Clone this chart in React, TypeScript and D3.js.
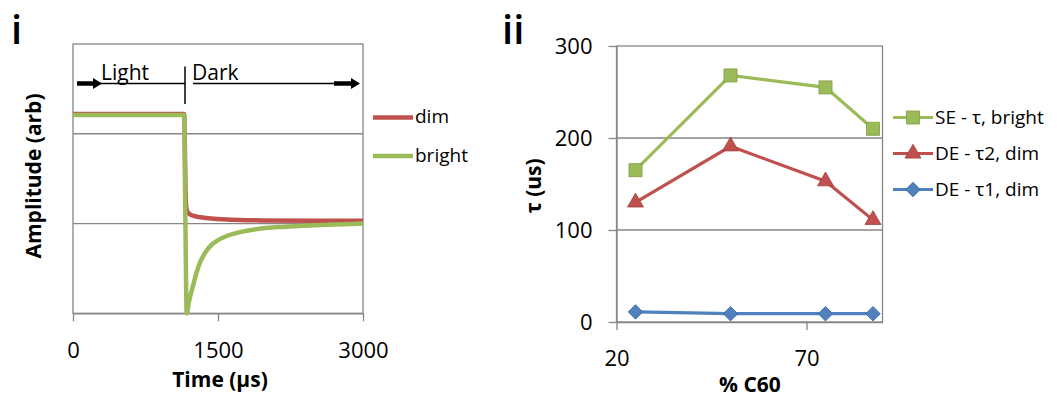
import React, { useEffect, useRef } from "react";
import * as d3 from "d3";

// panel i: transient amplitude (arb) vs time (us)
const timeTicks = [0, 1500, 3000];
const ampGrid = [1, 2];
const dimTime = [0, 1150, 1158, 1165, 1175, 1190, 1215, 1250, 1314, 1400, 1590, 1934, 2500, 3000];
const dimAmp = [2.22, 2.22, 1.8, 1.3, 1.16, 1.12, 1.1, 1.085, 1.07, 1.06, 1.045, 1.035, 1.03, 1.03];
const brightTime = [0, 1150, 1158, 1167, 1176, 1200, 1240, 1280, 1320, 1370, 1430, 1500, 1600, 1750, 1950, 2200, 2500, 2800, 3000];
const brightAmp = [2.21, 2.21, 1.5, 0.6, 0.0, 0.13, 0.3, 0.46, 0.58, 0.68, 0.76, 0.815, 0.865, 0.91, 0.945, 0.965, 0.982, 0.993, 1.0];

// panel ii: tau vs % C60
const c60 = [25, 50, 75, 87.5];
const seBright = [165, 268, 255, 210];
const deTau2Dim = [130, 191, 153, 111];
const deTau1Dim = [11, 9, 9, 9];
const c60Ticks = [20, 70];
const tauTicks = [0, 100, 200, 300];

const RED = "#c0504d";
const GREEN = "#9bbb59";
const BLUE = "#4f81bd";
const GREY = "#868686";
const FONT = "'Open Sans', sans-serif";

function App() {
  const ref = useRef<SVGSVGElement>(null);

  useEffect(() => {
    drawChart();
  });

  const drawChart = () => {
    const svg = d3.select(ref.current);
    svg.selectAll("*").remove();
    svg.style("font-family", FONT);

    // ---------- panel i ----------
    const x1 = d3.scaleLinear().domain([0, 3000]).range([73, 363]);
    const y1 = d3.scaleLinear().domain([0, 3]).range([313.3, 44]);

    const g1 = svg.append("g");
    g1.append("text").attr("x", 11).attr("y", 44).attr("font-size", 40).attr("font-weight", 600).text("i");

    g1.selectAll("line.grid")
      .data(ampGrid)
      .join("line")
      .attr("class", "grid")
      .attr("x1", x1(0)).attr("x2", x1(3000))
      .attr("y1", d => y1(d)).attr("y2", d => y1(d))
      .attr("stroke", GREY).attr("stroke-width", 1.3);

    g1.append("rect")
      .attr("x", x1(0)).attr("y", y1(3))
      .attr("width", x1(3000) - x1(0)).attr("height", y1(0) - y1(3))
      .attr("fill", "none").attr("stroke", GREY).attr("stroke-width", 1.3);

    const ax1 = g1.append("g")
      .attr("transform", "translate(0," + y1(0) + ")")
      .call(d3.axisBottom(x1).tickValues(timeTicks).tickFormat(d3.format("d")).tickSize(8).tickSizeOuter(0));
    ax1.select(".domain").attr("stroke", GREY).attr("stroke-width", 1.3);
    ax1.selectAll(".tick line").attr("stroke", GREY).attr("stroke-width", 1.3);
    ax1.selectAll(".tick text")
      .attr("y", 37).attr("dy", "0.35em")
      .attr("font-size", 22).attr("font-family", FONT).attr("fill", "#000");

    g1.append("text")
      .attr("x", 220).attr("y", 380).attr("dy", "0.35em")
      .attr("text-anchor", "middle").attr("font-size", 21).attr("font-weight", "bold")
      .text("Time (\u00b5s)");
    g1.append("text")
      .attr("transform", "translate(34,176) rotate(-90)")
      .attr("dy", "0.35em")
      .attr("text-anchor", "middle").attr("font-size", 21).attr("font-weight", "bold")
      .text("Amplitude (arb)");

    const ln1 = d3.line<[number, number]>()
      .x(d => x1(d[0]))
      .y(d => y1(d[1]))
      .curve(d3.curveMonotoneX);

    const dimPts = dimTime.map((t, i) => [t, dimAmp[i]] as [number, number]);
    const brightPts = brightTime.map((t, i) => [t, brightAmp[i]] as [number, number]);

    g1.append("path").attr("d", ln1(dimPts))
      .attr("fill", "none").attr("stroke", RED).attr("stroke-width", 4.5)
      .attr("stroke-linejoin", "round");
    g1.append("path").attr("d", ln1(brightPts))
      .attr("fill", "none").attr("stroke", GREEN).attr("stroke-width", 4.5)
      .attr("stroke-linejoin", "round");

    // light / dark annotation
    const ay = 83.5;
    g1.append("line").attr("x1", 100).attr("x2", 185).attr("y1", ay).attr("y2", ay)
      .attr("stroke", "#000").attr("stroke-width", 1.3);
    g1.append("line").attr("x1", 185).attr("x2", 185).attr("y1", 66.5).attr("y2", 104)
      .attr("stroke", "#000").attr("stroke-width", 1.5);
    g1.append("line").attr("x1", 193).attr("x2", 336).attr("y1", ay).attr("y2", ay)
      .attr("stroke", "#000").attr("stroke-width", 1.3);
    const arrow = (x0: number, x1a: number) => {
      g1.append("line").attr("x1", x0).attr("x2", x1a - 7).attr("y1", ay).attr("y2", ay)
        .attr("stroke", "#000").attr("stroke-width", 4.5);
      g1.append("path")
        .attr("d", `M${x1a - 9},${ay - 5.5}L${x1a},${ay}L${x1a - 9},${ay + 5.5}Z`)
        .attr("fill", "#000");
    };
    arrow(77, 102);
    arrow(334, 360);
    g1.append("text").attr("x", 101).attr("y", 80).attr("font-size", 21).text("Light");
    g1.append("text").attr("x", 192).attr("y", 80).attr("font-size", 21).text("Dark");

    // legend i
    const leg1 = [
      { name: "dim", color: RED, y: 117.5 },
      { name: "bright", color: GREEN, y: 156 }
    ];
    leg1.forEach(l => {
      g1.append("line").attr("x1", 373).attr("x2", 413).attr("y1", l.y).attr("y2", l.y)
        .attr("stroke", l.color).attr("stroke-width", 4.5);
      g1.append("text").attr("x", 415).attr("y", l.y).attr("dy", "0.3em")
        .attr("font-size", 19).text(l.name);
    });

    // ---------- panel ii ----------
    const x2 = d3.scaleLinear().domain([20, 90]).range([616.5, 882.5]);
    const y2 = d3.scaleLinear().domain([0, 300]).range([322, 46]);

    const g2 = svg.append("g");
    g2.append("text").attr("x", 502).attr("y", 44).attr("font-size", 40).attr("font-weight", 600).text("ii");

    g2.selectAll("line.grid")
      .data([100, 200])
      .join("line")
      .attr("class", "grid")
      .attr("x1", x2(20)).attr("x2", x2(90))
      .attr("y1", d => y2(d)).attr("y2", d => y2(d))
      .attr("stroke", GREY).attr("stroke-width", 1.3);

    g2.append("rect")
      .attr("x", x2(20)).attr("y", y2(300))
      .attr("width", x2(90) - x2(20)).attr("height", y2(0) - y2(300))
      .attr("fill", "none").attr("stroke", GREY).attr("stroke-width", 1.3);

    const ax2 = g2.append("g")
      .attr("transform", "translate(0," + y2(0) + ")")
      .call(d3.axisBottom(x2).tickValues(c60Ticks).tickFormat(d3.format("d")).tickSize(8).tickSizeOuter(0));
    ax2.select(".domain").attr("stroke", GREY).attr("stroke-width", 1.3);
    ax2.selectAll(".tick line").attr("stroke", GREY).attr("stroke-width", 1.3);
    ax2.selectAll(".tick text")
      .attr("y", 36).attr("dy", "0.35em")
      .attr("font-size", 22).attr("font-family", FONT).attr("fill", "#000");

    const ay2 = g2.append("g")
      .attr("transform", "translate(" + x2(20) + ",0)")
      .call(d3.axisLeft(y2).tickValues(tauTicks).tickFormat(d3.format("d")).tickSize(8).tickSizeOuter(0));
    ay2.select(".domain").attr("stroke", GREY).attr("stroke-width", 1.3);
    ay2.selectAll(".tick line").attr("stroke", GREY).attr("stroke-width", 1.3);
    ay2.selectAll(".tick text")
      .attr("x", -24).attr("dy", "0.35em")
      .attr("font-size", 22).attr("font-family", FONT).attr("fill", "#000");

    g2.append("text")
      .attr("x", 750).attr("y", 385).attr("dy", "0.35em")
      .attr("text-anchor", "middle").attr("font-size", 21).attr("font-weight", "bold")
      .text("% C60");
    g2.append("text")
      .attr("transform", "translate(534,186) rotate(-90)")
      .attr("dy", "0.35em")
      .attr("text-anchor", "middle").attr("font-size", 21).attr("font-weight", "bold")
      .text("\u03c4 (us)");

    const series = [
      { name: "SE - \u03c4, bright", values: seBright, color: GREEN, stroke: "#7d9a44", shape: d3.symbolSquare, size: 170, rot: 0 },
      { name: "DE - \u03c42, dim", values: deTau2Dim, color: RED, stroke: "#a23f3c", shape: d3.symbolTriangle, size: 110, rot: 0 },
      { name: "DE - \u03c41, dim", values: deTau1Dim, color: BLUE, stroke: "#3a6aa6", shape: d3.symbolSquare, size: 105, rot: 45 }
    ];

    const ln2 = d3.line<[number, number]>().x(d => x2(d[0])).y(d => y2(d[1]));

    series.slice().reverse().forEach(s => {
      const pts = c60.map((c, i) => [c, s.values[i]] as [number, number]);
      g2.append("path").attr("d", ln2(pts))
        .attr("fill", "none").attr("stroke", s.color).attr("stroke-width", 3.2);
      g2.selectAll(null)
        .data(pts)
        .join("path")
        .attr("transform", d => `translate(${x2(d[0])},${y2(d[1])}) rotate(${s.rot})`)
        .attr("d", d3.symbol().type(s.shape).size(s.size)())
        .attr("fill", s.color).attr("stroke", s.stroke).attr("stroke-width", 0.8);
    });

    // legend ii
    const legY = [117.5, 153.5, 189.5];
    series.forEach((s, i) => {
      const ly = legY[i];
      g2.append("line").attr("x1", 893).attr("x2", 933).attr("y1", ly).attr("y2", ly)
        .attr("stroke", s.color).attr("stroke-width", 3.2);
      g2.append("path")
        .attr("transform", `translate(913,${ly}) rotate(${s.rot})`)
        .attr("d", d3.symbol().type(s.shape).size(s.size)())
        .attr("fill", s.color).attr("stroke", s.stroke).attr("stroke-width", 0.8);
      g2.append("text").attr("x", 935).attr("y", ly).attr("dy", "0.33em")
        .attr("font-size", 19).text(s.name);
    });
  };

  return (
    <div style={{ position: "absolute", left: 0, top: 0 }}>
      <svg ref={ref} width={1057} height={401} style={{ display: "block", background: "#fff" }} />
    </div>
  );
}

export default App;
